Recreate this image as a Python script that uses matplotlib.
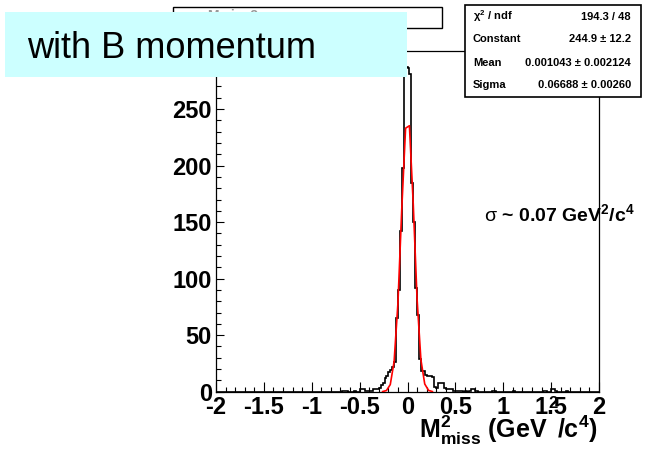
import numpy as np
import matplotlib
matplotlib.use('Agg')
import matplotlib.pyplot as plt
from matplotlib.patches import Rectangle
from matplotlib.ticker import MultipleLocator, FuncFormatter

plt.rcParams['font.family'] = ['Liberation Sans', 'DejaVu Sans']
plt.rcParams['mathtext.fontset'] = 'custom'
plt.rcParams['mathtext.rm'] = 'Liberation Sans:bold'
plt.rcParams['mathtext.it'] = 'Liberation Sans:bold'
plt.rcParams['mathtext.bf'] = 'Liberation Sans:bold'

# ---------------- data ----------------
x_min, x_max, n_bins = -2.0, 2.0, 200
counts_m2_to_m1 = [0] * 20                      # -2.00 .. -1.60
counts_m1p6_to_m1p2 = [0] * 20                  # -1.60 .. -1.20
counts_m1p2_to_m0p8 = [0] * 20                  # -1.20 .. -0.80
counts_m0p8_to_m0p4 = [0, 0, 0, 0, 0, 0, 1, 1, 1, 0,
                       0, 0, 1, 0, 0, 2, 2, 2, 1, 1]
counts_m0p4_to_0 = [1, 1, 2, 2, 2, 3, 6, 8, 12, 14,
                    17, 19, 22, 26, 65, 90, 142, 198, 283, 287]
counts_0_to_0p4 = [286, 281, 185, 150, 92, 68, 29, 18, 18, 15,
                   14, 14, 14, 13, 4, 3, 8, 8, 8, 3]
counts_0p4_to_0p8 = [2, 2, 2, 2, 1, 1, 1, 1, 1, 0,
                     1, 0, 1, 2, 2, 1, 1, 0, 0, 0]
counts_0p8_to_1p2 = [0, 0, 0, 0, 1, 1, 0, 0, 0, 0,
                     0, 0, 0, 0, 0, 1, 0, 0, 0, 0]
counts_1p2_to_1p6 = [0, 0, 0, 0, 0, 0, 0, 0, 0, 0,
                     0, 1, 1, 0, 0, 2, 2, 1, 0, 0]
counts_1p6_to_2 = [0, 0, 0, 1, 0, 0, 0, 0, 0, 0,
                   0, 0, 0, 0, 0, 0, 0, 0, 0, 0]

fit_constant = 244.9
fit_mean = 0.001043
fit_sigma = 0.06688
fit_step = 0.04
fit_half_range = 0.26

stats_labels = [r'$\chi^{2}$ / ndf', 'Constant', 'Mean', 'Sigma']
stats_values = ['194.3 / 48', '244.9 ± 12.2', '0.001043 ± 0.002124', '0.06688 ± 0.00260']

x_ticks_fmt = lambda v, p: f'{v:g}'

# ---------------- figure ----------------
W, H = 650, 449
fig = plt.figure(figsize=(W / 100, H / 100), dpi=100)
fig.patch.set_facecolor('white')

def fx(px):
    return px / W

def fy(py):
    return 1 - py / H

ax_left, ax_right, ax_bottom, ax_top = 216, 599, 391.7, 51
ax = fig.add_axes([fx(ax_left), fy(ax_bottom), (ax_right - ax_left) / W, (ax_bottom - ax_top) / H])

counts = np.array(counts_m2_to_m1 + counts_m1p6_to_m1p2 + counts_m1p2_to_m0p8 + counts_m0p8_to_m0p4 +
                  counts_m0p4_to_0 + counts_0_to_0p4 + counts_0p4_to_0p8 + counts_0p8_to_1p2 +
                  counts_1p2_to_1p6 + counts_1p6_to_2, dtype=float)
edges = np.linspace(x_min, x_max, n_bins + 1)
ax.stairs(counts, edges, color='black', lw=1.2, baseline=0, zorder=2)

xf = np.arange(-fit_half_range, fit_half_range + 1e-9, fit_step)
yf = fit_constant * np.exp(-0.5 * ((xf - fit_mean) / fit_sigma) ** 2)
ax.plot(xf, yf, color='red', lw=1.2, zorder=3)

ax.set_xlim(x_min, x_max)
ax.set_ylim(0, 1.05 * counts.max())
ax.xaxis.set_major_locator(MultipleLocator(0.5))
ax.xaxis.set_minor_locator(MultipleLocator(0.1))
ax.yaxis.set_major_locator(MultipleLocator(50))
ax.yaxis.set_minor_locator(MultipleLocator(10))
ax.xaxis.set_major_formatter(FuncFormatter(x_ticks_fmt))
ax.yaxis.set_major_formatter(FuncFormatter(x_ticks_fmt))
ax.tick_params(which='both', direction='in', top=False, right=False, width=0.8, color='black')
ax.tick_params(axis='x', which='major', length=7.2, pad=3)
ax.tick_params(axis='x', which='minor', length=3.6)
ax.tick_params(axis='y', which='major', length=6, pad=3)
ax.tick_params(axis='y', which='minor', length=3.6)
for lab in ax.get_xticklabels() + ax.get_yticklabels():
    lab.set_fontsize(17)
    lab.set_fontweight('bold')
for s in ax.spines.values():
    s.set_linewidth(0.9)
    s.set_color('black')

# title box (mostly hidden)
fig.add_artist(Rectangle((fx(173), fy(28)), (442 - 173) / W, 21 / H, transform=fig.transFigure,
                         facecolor='white', edgecolor='black', lw=1.0, zorder=4))
fig.text(fx(207), fy(9), 'Mmiss2', fontsize=10, fontweight='bold', color='#999999',
         ha='left', va='top', zorder=5)

# cyan label box
fig.add_artist(Rectangle((fx(5), fy(76.7)), (406.7 - 5) / W, (76.7 - 11.7) / H, transform=fig.transFigure,
                         facecolor='#ccffff', edgecolor='none', zorder=6))
fig.text(fx(26.7), fy(58.3), 'with B momentum', fontsize=26, color='black', ha='left', va='baseline', zorder=7)

# stats box
bx0, bx1, by0, by1 = 465, 641, 5, 97
fig.add_artist(Rectangle((fx(bx0), fy(by1)), (bx1 - bx0) / W, (by1 - by0) / H, transform=fig.transFigure,
                         facecolor='white', edgecolor='black', lw=1.2, zorder=4))
row_h = (by1 - by0) / len(stats_labels)
for i, (lab, val) in enumerate(zip(stats_labels, stats_values)):
    yc = by0 + row_h * (i + 0.5)
    fig.text(fx(473), fy(yc), lab, fontsize=8, fontweight='bold', ha='left', va='center', zorder=5)
    fig.text(fx(631), fy(yc), val, fontsize=8, fontweight='bold', ha='right', va='center', zorder=5)

# sigma annotation
fig.canvas.draw()
r = fig.canvas.get_renderer()
ts = fig.text(fx(484), fy(221), 'σ', fontsize=14, ha='left', va='baseline', zorder=5)
ws = ts.get_window_extent(r).width
fig.text(fx(484 + ws), fy(221), r' ~ 0.07 GeV$^{2}$/c$^{4}$', fontsize=14, fontweight='bold',
         ha='left', va='baseline', zorder=5)

# x axis title (pieces)
tA = fig.text(0, fy(438), r'M$^{2}_{\mathrm{miss}}$ (GeV', fontsize=18, fontweight='bold', ha='left', va='baseline')
tB = fig.text(0, fy(408), '2', fontsize=12, fontweight='bold', ha='left', va='baseline')
tC = fig.text(0, fy(438), r'/c$^{4}$)', fontsize=18, fontweight='bold', ha='left', va='baseline')
wA = tA.get_window_extent(r).width
wB = tB.get_window_extent(r).width
wC = tC.get_window_extent(r).width
xC = 598 - wC
xB = xC - wB
xA = xB - wA
tA.set_x(fx(xA))
tB.set_x(fx(xB))
tC.set_x(fx(xC))

fig.savefig('out.png', dpi=100)
